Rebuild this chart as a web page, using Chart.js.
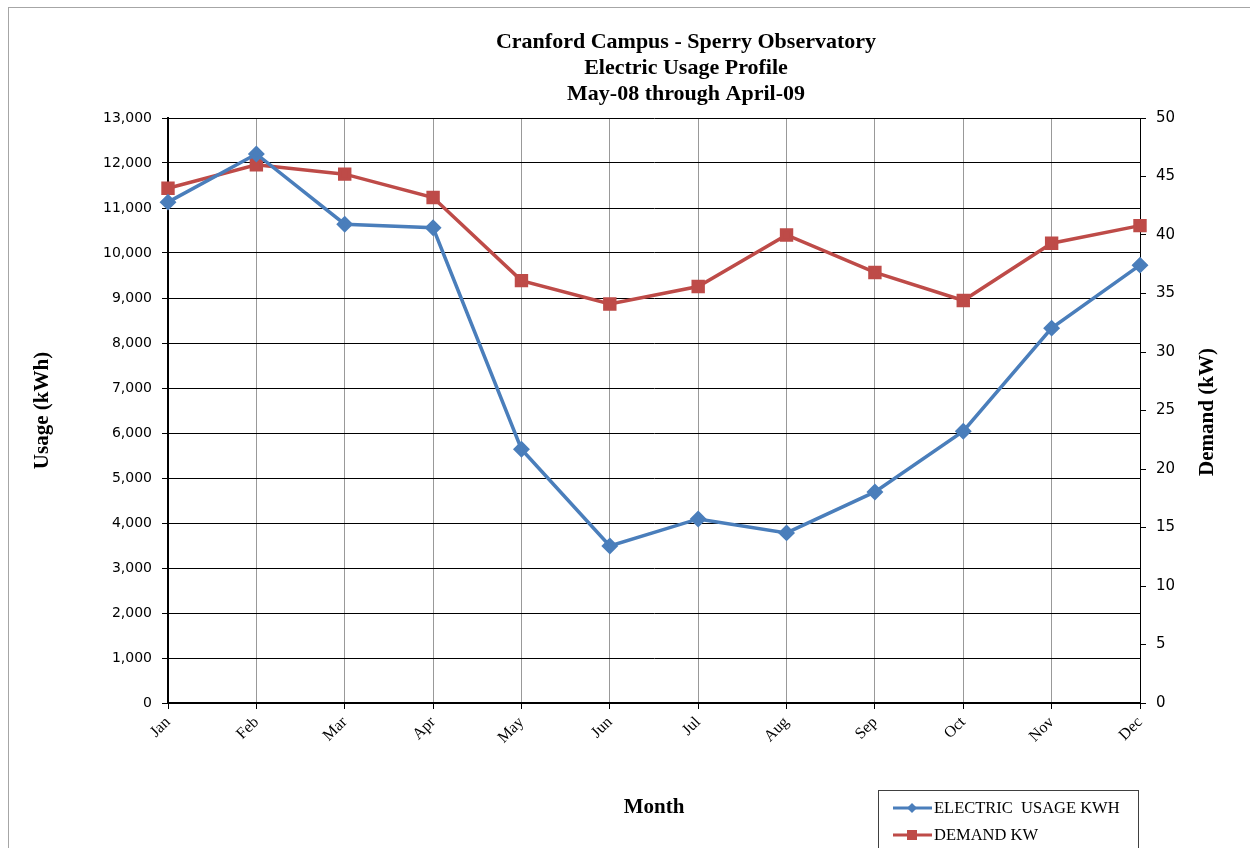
<!DOCTYPE html>
<html>
<head>
<meta charset="utf-8">
<script src="https://cdn.jsdelivr.net/npm/chart.js@4.4.1/dist/chart.umd.min.js"></script>
<style>
  html, body { margin: 0; padding: 0; background: #fff; }
  #wrap { width: 1250px; height: 848px; position: relative; }
</style>
</head>
<body>
<div id="wrap"><canvas id="usageChart" width="1250" height="848"></canvas></div>
<script>
const months = ['Jan', 'Feb', 'Mar', 'Apr', 'May', 'Jun', 'Jul', 'Aug', 'Sep', 'Oct', 'Nov', 'Dec']
const usageKwh = [11130, 12200, 10640, 10560, 5640, 3490, 4090, 3780, 4690, 6040, 8330, 9730]
const demandKw = [44.0, 46.0, 45.2, 43.2, 36.1, 34.1, 35.6, 40.0, 36.8, 34.4, 39.3, 40.8]
const titleLines = ['Cranford Campus - Sperry Observatory', 'Electric Usage Profile', 'May-08 through April-09']

const serif = '"Liberation Serif", "Times New Roman", serif'
const sans = '"DejaVu Sans", Verdana, sans-serif'

// title, right axis title, outer frame and legend box drawn by hand
const decor = {
  id: 'decor',
  afterDraw(chart) {
    const ctx = chart.ctx
    ctx.save()
    ctx.strokeStyle = '#a6a6a6'
    ctx.lineWidth = 1
    ctx.strokeRect(8.5, 7.5, 1260, 900)

    ctx.fillStyle = '#000'
    ctx.font = 'bold 22px ' + serif
    ctx.textAlign = 'center'
    ctx.textBaseline = 'middle'
    titleLines.forEach((t, i) => ctx.fillText(t, 686, 42 + i * 26))

    // right axis title reads bottom to top
    ctx.save()
    ctx.translate(1208, 412)
    ctx.rotate(-Math.PI / 2)
    ctx.font = 'bold 21px ' + serif
    ctx.fillText('Demand (kW)', 0, 0)
    ctx.restore()

    // legend
    ctx.strokeStyle = '#404040'
    ctx.lineWidth = 1
    ctx.strokeRect(878.5, 790.5, 260, 80)
    ctx.font = '16.5px ' + serif
    ctx.textAlign = 'left'
    chart.data.datasets.forEach((ds, i) => {
      const y = 808 + i * 27
      ctx.strokeStyle = ds.borderColor
      ctx.lineWidth = 3
      ctx.beginPath(); ctx.moveTo(893, y); ctx.lineTo(932, y); ctx.stroke()
      ctx.fillStyle = ds.borderColor
      if (ds.pointStyle === 'rect') {
        ctx.fillRect(907, y - 5, 10, 10)
      } else {
        ctx.beginPath()
        ctx.moveTo(912, y - 5); ctx.lineTo(917, y); ctx.lineTo(912, y + 5); ctx.lineTo(907, y)
        ctx.closePath(); ctx.fill()
      }
      ctx.fillStyle = '#000'
      ctx.fillText(ds.label, 934, y + 1)
    })
    ctx.restore()
  }
}

new Chart(document.getElementById('usageChart'), {
  type: 'line',
  data: {
    labels: months,
    datasets: [{
      label: 'ELECTRIC  USAGE KWH',
      data: usageKwh,
      yAxisID: 'y',
      borderColor: '#4a7ebb',
      backgroundColor: '#4a7ebb',
      borderWidth: 3.5,
      pointStyle: 'rectRot',
      pointRadius: 6, pointHoverRadius: 6,
      tension: 0
    }, {
      label: 'DEMAND KW',
      data: demandKw,
      yAxisID: 'y1',
      borderColor: '#be4b48',
      backgroundColor: '#be4b48',
      borderWidth: 3.5,
      pointStyle: 'rect',
      pointRadius: 7, pointHoverRadius: 7,
      tension: 0
    }]
  },
  options: {
    responsive: false,
    animation: false,
    layout: { padding: { top: 118, left: 0, right: 0, bottom: 0 } },
    plugins: { legend: { display: false }, title: { display: false }, tooltip: { enabled: false } },
    scales: {
      x: {
        offset: false,
        afterFit(s) { s.height = 145 },
        grid: { color: '#999', lineWidth: 1, tickLength: 6, tickColor: '#000' },
        border: { color: '#000', width: 2 },
        ticks: { color: '#000', font: { family: serif, size: 16 }, minRotation: 45, maxRotation: 45, padding: 4 },
        title: { display: true, text: 'Month', color: '#000', font: { family: serif, size: 21, weight: 'bold' }, padding: { top: 0, bottom: 28 } }
      },
      y: {
        position: 'left',
        min: 0, max: 13000,
        afterFit(s) { s.width = 168 },
        grid: { color: '#000', lineWidth: 1, tickLength: 6 },
        border: { color: '#000', width: 2 },
        ticks: {
          stepSize: 1000, color: '#000', padding: 10,
          font: { family: sans, size: 14 },
          callback: v => v.toLocaleString('en-US')
        },
        title: { display: true, text: 'Usage (kWh)', color: '#000', font: { family: serif, size: 21, weight: 'bold' }, padding: { top: 30, bottom: 0 } }
      },
      y1: {
        position: 'right',
        min: 0, max: 50,
        afterFit(s) { s.width = 110 },
        grid: { drawOnChartArea: false, color: '#000', tickLength: 6 },
        border: { color: '#000', width: 1 },
        ticks: { stepSize: 5, color: '#000', padding: 10, font: { family: sans, size: 15 } },
        title: { display: false }
      }
    }
  },
  plugins: [decor]
})
</script>
</body>
</html>
